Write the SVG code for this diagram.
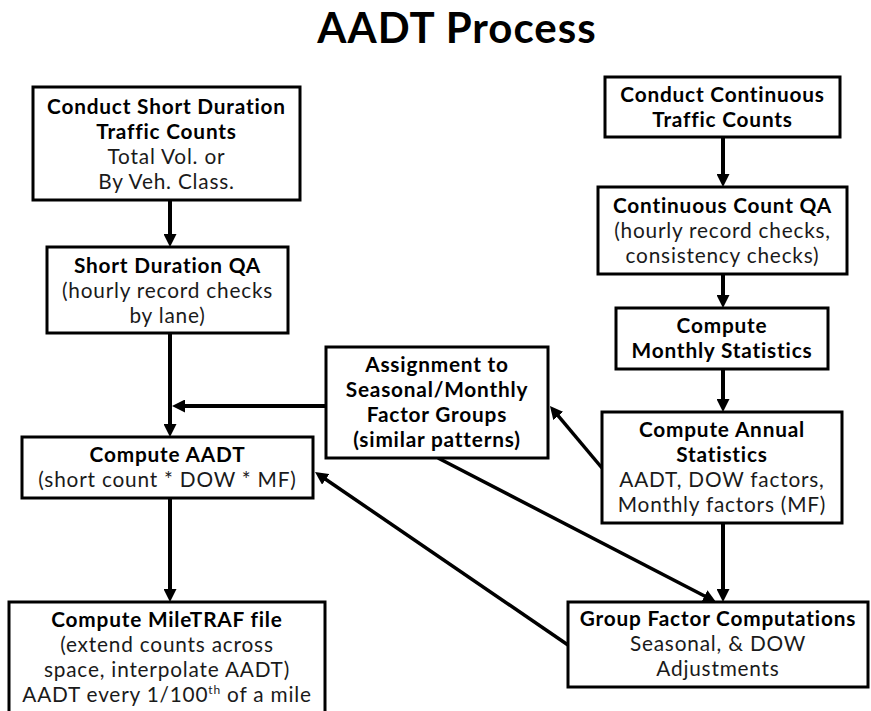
<svg xmlns="http://www.w3.org/2000/svg" width="871" height="711" viewBox="0 0 871 711">
<defs>
<style>
.box{fill:#fff;stroke:#000;stroke-width:3}
text{font-family:Lato,"Open Sans","Liberation Sans",sans-serif;font-size:20.8px;letter-spacing:0.8px;text-anchor:middle;fill:#1a1a1a}
.b{font-weight:bold;fill:#000}
.title{font-size:42px;letter-spacing:1px;font-weight:bold;fill:#000}
.c{stroke:#000;stroke-width:4;fill:none;marker-end:url(#ah)}
.d{stroke:#000;stroke-width:3.5;fill:none;marker-end:url(#ah)}
</style>
<marker id="ah" markerUnits="userSpaceOnUse" markerWidth="13" markerHeight="13" viewBox="0 0 13 13" refX="5" refY="6.5" orient="auto">
<path d="M0,0 L13,6.5 L0,13 z" fill="#000"/>
</marker>
</defs>
<rect width="871" height="711" fill="#fff"/>
<text class="title" x="457" y="43">AADT Process</text>

<g id="connectors">
<line class="c" x1="170" y1="200" x2="170" y2="239"/>
<line class="c" x1="170" y1="333" x2="170" y2="429"/>
<line class="c" x1="326" y1="406" x2="180" y2="406"/>
<line class="c" x1="170" y1="498" x2="170" y2="594"/>
<line class="c" x1="723" y1="137" x2="723" y2="179"/>
<line class="c" x1="723" y1="274" x2="723" y2="300"/>
<line class="c" x1="723" y1="369" x2="723" y2="404"/>
<line class="c" x1="723" y1="523" x2="723" y2="594"/>
<line class="d" x1="602" y1="468" x2="555.1" y2="412.1"/>
<line class="d" x1="438" y1="458" x2="708.9" y2="598.3"/>
<line class="d" x1="568" y1="645" x2="321.6" y2="476.5"/>
</g>

<g id="short-counts">
<rect class="box" x="33" y="87" width="267" height="113"/>
<text class="b" x="166.5" y="114">Conduct Short Duration</text>
<text class="b" x="166.5" y="139">Traffic Counts</text>
<text x="166.5" y="164">Total Vol. or</text>
<text x="166.5" y="189">By Veh. Class.</text>
</g>

<g id="short-qa">
<rect class="box" x="47" y="247" width="241" height="86"/>
<text class="b" x="167.5" y="273">Short Duration QA</text>
<text x="167.5" y="298">(hourly record checks</text>
<text x="167.5" y="323">by lane)</text>
</g>

<g id="compute-aadt">
<rect class="box" x="22" y="437" width="291" height="61"/>
<text class="b" x="167.5" y="462">Compute AADT</text>
<text x="167.5" y="487">(short count * DOW * MF)</text>
</g>

<g id="miletraf">
<rect class="box" x="9" y="602" width="316" height="115"/>
<text class="b" x="167" y="627">Compute MileTRAF file</text>
<text x="167" y="652">(extend counts across</text>
<text x="167" y="677">space, interpolate AADT)</text>
<text x="167" y="702">AADT every 1/100<tspan font-size="12" dy="-8">th</tspan><tspan dy="8"> of a mile</tspan></text>
</g>

<g id="assignment">
<rect class="box" x="326" y="347" width="222" height="111"/>
<text class="b" x="437" y="372">Assignment to</text>
<text class="b" x="437" y="397">Seasonal/Monthly</text>
<text class="b" x="437" y="422">Factor Groups</text>
<text class="b" x="437" y="447">(similar patterns)</text>
</g>

<g id="continuous-counts">
<rect class="box" x="605" y="77" width="235" height="60"/>
<text class="b" x="722.5" y="102">Conduct Continuous</text>
<text class="b" x="722.5" y="127">Traffic Counts</text>
</g>

<g id="continuous-qa">
<rect class="box" x="598" y="187" width="249" height="87"/>
<text class="b" x="722.5" y="213">Continuous Count QA</text>
<text x="722.5" y="238">(hourly record checks,</text>
<text x="722.5" y="263">consistency checks)</text>
</g>

<g id="monthly">
<rect class="box" x="616" y="308" width="212" height="61"/>
<text class="b" x="722" y="333">Compute</text>
<text class="b" x="722" y="358">Monthly Statistics</text>
</g>

<g id="annual">
<rect class="box" x="602" y="412" width="240" height="111"/>
<text class="b" x="722" y="437">Compute Annual</text>
<text class="b" x="722" y="462">Statistics</text>
<text x="722" y="487">AADT, DOW factors,</text>
<text x="722" y="512">Monthly factors (MF)</text>
</g>

<g id="group-factor">
<rect class="box" x="568" y="602" width="300" height="85"/>
<text class="b" x="718" y="626">Group Factor Computations</text>
<text x="718" y="651">Seasonal, &amp; DOW</text>
<text x="718" y="676">Adjustments</text>
</g>
</svg>
